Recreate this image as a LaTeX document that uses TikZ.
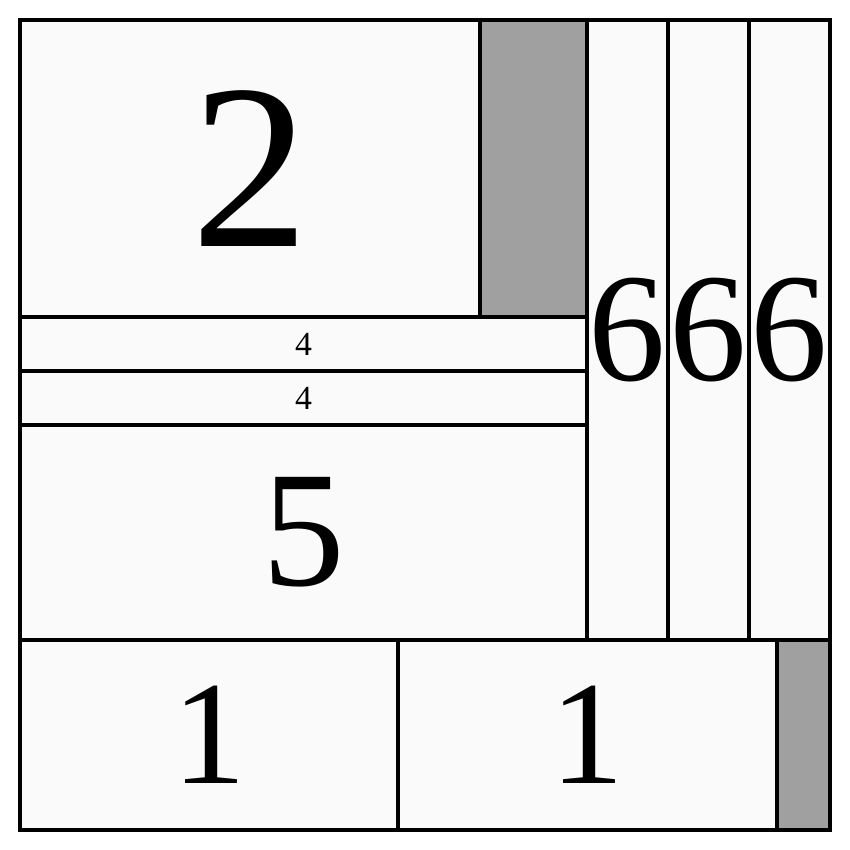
\documentclass[tikz,border=0pt]{standalone}
\usepackage{fontspec}
\setmainfont{Liberation Serif}
\definecolor{cellfill}{HTML}{FAFAFA}
\definecolor{cellgray}{HTML}{A0A0A0}
\begin{document}
\begin{tikzpicture}[
            cell/.style={draw=black, line width=1.05pt, fill=cellfill,
                inner sep=0pt, outer sep=0pt, anchor=north west},
            spare/.style={cell, fill=cellgray},
            huge digit/.style={font=\fontsize{67}{67}\selectfont},
            big digit/.style={font=\fontsize{44}{44}\selectfont},
            tiny digit/.style={font=\fontsize{9.6}{9.6}\selectfont}
        ]
        \useasboundingbox (0,0) rectangle (8.5,-8.5);
        \fill[white] (0,0) rectangle (8.5,-8.5);
        % top block
        \node[cell, huge digit, minimum width=4.60cm, minimum height=2.97cm] (two) at (0.20,-0.20) {2};
        \node[spare, minimum width=1.07cm, minimum height=2.97cm] (gaptop) at (4.80,-0.20) {};
        \node[cell, tiny digit, minimum width=5.67cm, minimum height=0.54cm] (foura) at (0.20,-3.17) {4};
        \node[cell, tiny digit, minimum width=5.67cm, minimum height=0.54cm] (fourb) at (0.20,-3.71) {4};
        \node[cell, font=\fontsize{47}{47}\selectfont, minimum width=5.67cm, minimum height=2.15cm] (five) at (0.20,-4.25) {5};
        % columns
        \node[cell, big digit, minimum width=0.81cm, minimum height=6.20cm] (sixa) at (5.87,-0.20) {6};
        \node[cell, big digit, minimum width=0.81cm, minimum height=6.20cm] (sixb) at (6.68,-0.20) {6};
        \node[cell, big digit, minimum width=0.81cm, minimum height=6.20cm] (sixc) at (7.49,-0.20) {6};
        % bottom row
        \node[cell, font=\fontsize{42}{42}\selectfont, minimum width=3.78cm, minimum height=1.90cm] (onea) at (0.20,-6.40) {1};
        \node[cell, font=\fontsize{42}{42}\selectfont, minimum width=3.79cm, minimum height=1.90cm] (oneb) at (3.98,-6.40) {1};
        \node[spare, minimum width=0.53cm, minimum height=1.90cm] (gapbot) at (7.77,-6.40) {};
    \end{tikzpicture}
\end{document}
